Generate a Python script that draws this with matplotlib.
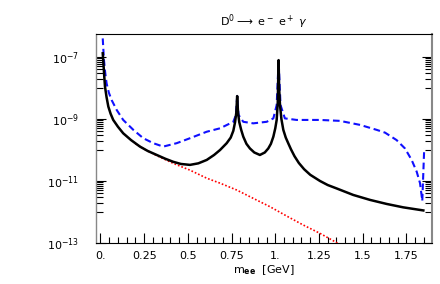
import matplotlib
matplotlib.use("Agg")
import matplotlib.pyplot as plt
import numpy as np

# spectrum points (x in GeV, y as log10 of the rate)
x_black = [0.013, 0.018, 0.022, 0.026, 0.035, 0.045, 0.058, 0.073, 0.100, 0.130,
           0.175, 0.226, 0.270, 0.322, 0.370, 0.416, 0.460, 0.512, 0.560, 0.608,
           0.650, 0.684, 0.722, 0.745, 0.760, 0.770, 0.777, 0.782, 0.787, 0.794,
           0.805, 0.817, 0.835, 0.855, 0.880, 0.912, 0.940, 0.960, 0.975, 0.989,
           1.000, 1.008, 1.014, 1.019, 1.022, 1.027, 1.035, 1.046, 1.060, 1.074,
           1.090, 1.110, 1.135, 1.165, 1.200, 1.256, 1.300, 1.351, 1.446, 1.542,
           1.637, 1.732, 1.847]
lg_black = [-6.88, -7.30, -7.65, -7.96, -8.30, -8.60, -8.83, -9.03, -9.25, -9.46,
            -9.68, -9.89, -10.03, -10.16, -10.28, -10.38, -10.45, -10.48, -10.43, -10.32,
            -10.16, -10.00, -9.78, -9.60, -9.38, -9.10, -8.80, -8.26, -8.80, -9.10,
            -9.35, -9.57, -9.80, -9.95, -10.08, -10.16, -10.08, -9.95, -9.80, -9.57,
            -9.30, -9.03, -8.50, -7.10, -8.00, -8.55, -9.00, -9.35, -9.60, -9.78,
            -9.98, -10.20, -10.42, -10.62, -10.80, -11.00, -11.13, -11.24, -11.45, -11.61,
            -11.74, -11.85, -11.95]

x_blue = [0.013, 0.020, 0.027, 0.035, 0.048, 0.064, 0.093, 0.130, 0.188, 0.245,
          0.302, 0.359, 0.436, 0.512, 0.608, 0.684, 0.760, 0.775, 0.782, 0.790,
          0.817, 0.874, 0.951, 0.989, 1.008, 1.019, 1.030, 1.055, 1.122, 1.256,
          1.370, 1.485, 1.580, 1.628, 1.694, 1.742, 1.780, 1.809, 1.828, 1.841,
          1.852]
lg_blue = [-6.40, -7.10, -7.50, -7.85, -8.15, -8.39, -8.71, -9.03, -9.35, -9.62,
           -9.78, -9.89, -9.78, -9.62, -9.41, -9.30, -9.09, -8.87, -8.26, -8.87,
           -9.09, -9.14, -9.09, -8.98, -8.55, -7.12, -8.55, -8.98, -9.03, -9.03,
           -9.06, -9.19, -9.35, -9.44, -9.68, -9.95, -10.32, -10.70, -11.07, -11.64,
           -9.95]

x_red = [0.200, 0.260, 0.322, 0.416, 0.512, 0.608, 0.684, 0.779, 0.874, 0.970,
         1.065, 1.160, 1.256, 1.342, 1.370]
lg_red = [-9.80, -10.00, -10.18, -10.43, -10.65, -10.91, -11.07, -11.29, -11.56, -11.83,
          -12.13, -12.42, -12.69, -12.96, -13.05]

xticks = [0, 0.25, 0.5, 0.75, 1.0, 1.25, 1.5, 1.75]
xticklabels = ["0.", "0.25", "0.5", "0.75", "1.", "1.25", "1.5", "1.75"]
yticks = [1e-13, 1e-11, 1e-9, 1e-7]
yticklabels = [r"$10^{-13}$", r"$10^{-11}$", r"$10^{-9}$", r"$10^{-7}$"]

fig = plt.figure(figsize=(4.4, 2.84), dpi=100)
ax = fig.add_axes([0.218, 0.1444, 0.764, 0.7356])

ax.plot(x_red, 10.0 ** np.array(lg_red), color="red", lw=1.2, ls=(0, (1, 1.2)))
ax.plot(x_blue, 10.0 ** np.array(lg_blue), color="#1010ff", lw=1.5, ls=(0, (3.2, 1.8)))
ax.plot(x_black, 10.0 ** np.array(lg_black), color="black", lw=1.8,
        solid_joinstyle="round")

ax.set_yscale("log")
ax.set_xlim(-0.026, 1.897)
ax.set_ylim(1e-13, 10 ** -6.26)

ax.set_xticks(xticks)
ax.set_xticklabels(xticklabels)
ax.set_xticks(np.arange(0, 1.9, 0.05), minor=True)
ax.set_yticks(yticks)
ax.set_yticklabels(yticklabels)
ymin = []
for e in [-8, -10, -12]:
    ymin += [k * 10.0 ** e for k in range(1, 10)]
ax.set_yticks(ymin, minor=True)
ax.yaxis.set_minor_formatter(matplotlib.ticker.NullFormatter())

ax.tick_params(axis="x", which="both", direction="in", top=False, labelsize=8, pad=6)
ax.tick_params(axis="x", which="major", length=7, width=0.8)
ax.tick_params(axis="x", which="minor", length=4, width=0.8)
ax.tick_params(axis="y", which="both", direction="in", left=True, right=True, labelsize=8, pad=12)
ax.tick_params(axis="y", which="major", length=7, width=0.8)
ax.tick_params(axis="y", which="minor", length=5, width=0.8)

for s in ["left", "right"]:
    ax.spines[s].set_color("#888888")
ax.spines["left"].set_linewidth(1.0)
ax.spines["right"].set_linewidth(1.5)

ax.set_title(r"D$^0$$\longrightarrow$ e$^-$ e$^+$ $\gamma$", fontsize=8, pad=6)
ax.set_xlabel(r"m$_{\mathbf{ee}}$  [GeV]", fontsize=8, labelpad=1)

fig.savefig("out.png", dpi=100)
